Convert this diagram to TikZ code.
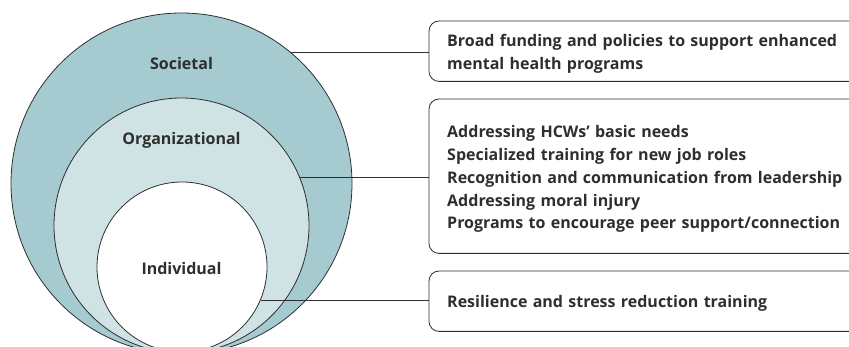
\documentclass[tikz,border=0pt]{standalone}
\usepackage{fontspec}
\setmainfont{Open Sans}
\definecolor{outerc}{HTML}{A5CAD0}
\definecolor{midc}{HTML}{CFE2E4}
\definecolor{inkc}{HTML}{2E2E2E}
\begin{document}
\begin{tikzpicture}[x=1pt,y=-1pt,
  ring/.style={circle,draw=inkc,line width=0.8pt,inner sep=0pt},
  lbl/.style={font=\fontsize{16}{18}\selectfont\bfseries,text=inkc},
  box/.style={anchor=north west,inner xsep=18pt,inner ysep=0pt,
     text width=404pt,align=left,font=\fontsize{16}{22.8}\selectfont\bfseries,text=inkc},
  boxline/.style={draw=inkc,line width=0.8pt,rounded corners=10pt},
  link/.style={draw=inkc,line width=0.8pt}]
\useasboundingbox (0,0) rectangle (849,347);
\begin{scope}
\clip (0,0) rectangle (849,347);
\node[ring,fill=outerc,minimum size=341pt] (soc) at (181.5,183.5) {};
\node[ring,fill=midc,minimum size=255pt] (org) at (181.5,225.5) {};
\node[ring,fill=white,minimum size=170pt] (ind) at (182,267) {};
\end{scope}
\node[lbl] (tsoc) at (181.5,63.5) {Societal};
\node[lbl] (torg) at (181.5,140) {Organizational};
\node[lbl] (tind) at (181.5,268.5) {Individual};
\node[box,minimum height=60pt] (b1) at (429,24) {Broad funding and policies to support enhanced\\mental health programs};
\node[box,minimum height=154pt] (b2) at (429,102) {Addressing HCWs’ basic needs\\Specialized training for new job roles\\Recognition and communication from leadership\\Addressing moral injury\\Programs to encourage peer support/connection};
\node[box,minimum height=60pt] (b3) at (429,273) {Resilience and stress reduction training};
\foreach \b/\s in {b1/3pt,b2/3pt,b3/2pt}{
  \draw[boxline] ([yshift=\s]\b.north east) -- ([yshift=\s]\b.north west) -- ([yshift=\s]\b.south west) -- ([yshift=\s]\b.south east);
}
\draw[link] (soc.50.5) -- (soc.50.5 -| b1.west);
\draw[link] (org.22.8) -- (org.22.8 -| b2.west);
\draw[link] (ind.-23.6) -- (ind.-23.6 -| b3.west);
\end{tikzpicture}
\end{document}
